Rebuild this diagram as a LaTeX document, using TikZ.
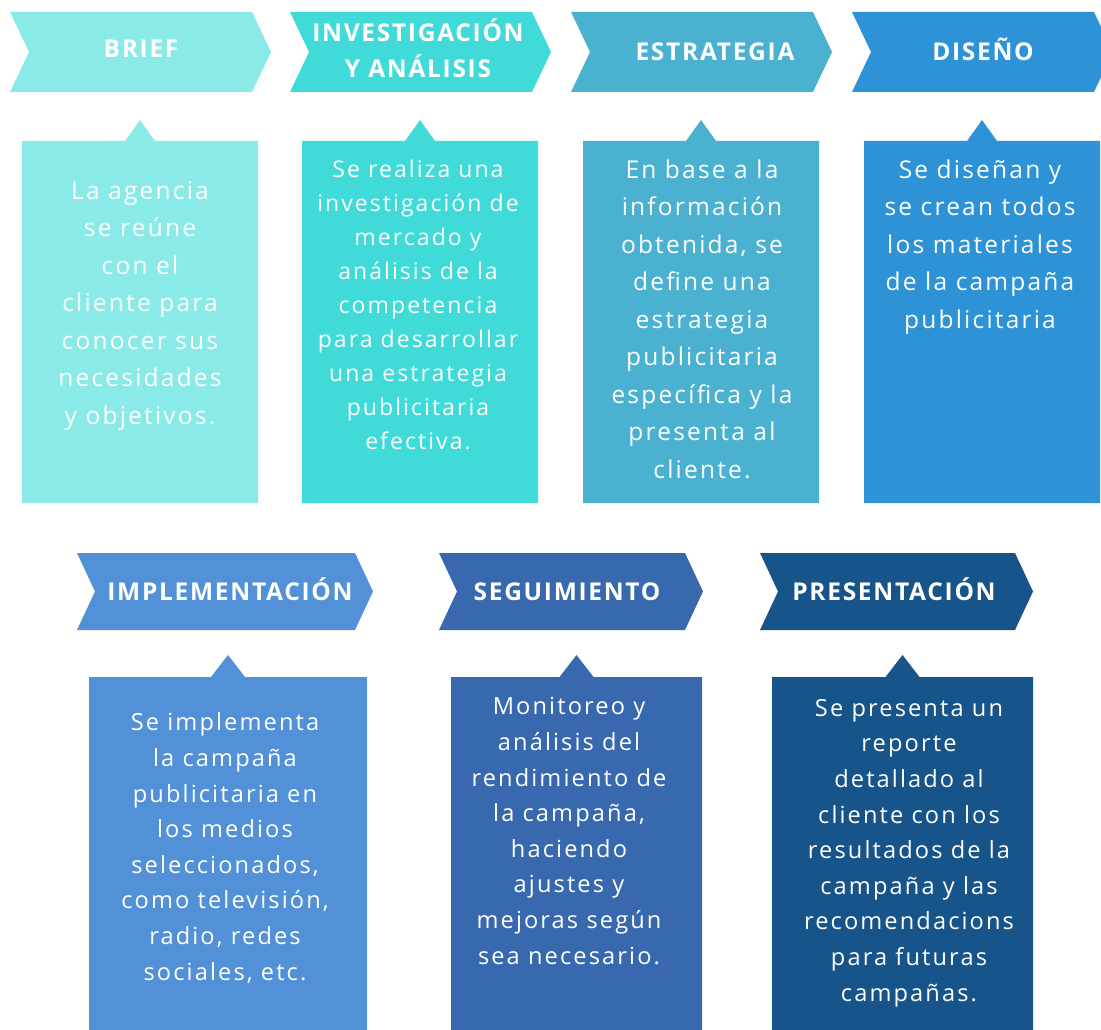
\documentclass[tikz,border=0pt]{standalone}
\usepackage{fontspec}
\setmainfont{Open Sans}

\definecolor{paso1}{HTML}{89EAE8}
\definecolor{paso2}{HTML}{40DBD8}
\definecolor{paso3}{HTML}{4AB2D0}
\definecolor{paso4}{HTML}{2E92D6}
\definecolor{paso5}{HTML}{5291D8}
\definecolor{paso6}{HTML}{3869AF}
\definecolor{paso7}{HTML}{175489}

\begin{document}
\begin{tikzpicture}[x=1pt,y=-1pt,
    titulo/.style={text=white,inner sep=0pt,anchor=base,align=center,
        font=\bfseries\fontsize{24.5}{36}\selectfont\addfontfeature{LetterSpace=7}},
    texto/.style 2 args={text=white,inner sep=0pt,anchor=base,align=center,
        font=\fontsize{#1}{#2}\selectfont\addfontfeature{LetterSpace=9}}]
    \clip (0,0) rectangle (1101,1030);

    % fila de arriba: flechas y tarjetas
    \foreach \x/\col in {10/paso1, 290/paso2, 571/paso3, 852/paso4} {
        \fill[\col] (\x,12) -- ++(242,0) -- ++(19,40) -- ++(-19,40) -- ++(-242,0) -- ++(19,-40) -- cycle;
        \fill[\col] (\x+12,141) -- ++(103,0) -- ++(15,-21) -- ++(15,21) -- ++(103,0)
            -- (\x+248,503) -- (\x+12,503) -- cycle;
    }

    % fila de abajo (anchos distintos)
    \foreach \x/\w/\cl/\cr/\col in {77/278/89/367/paso5, 439/246/451/702/paso6, 760/255/772/1033/paso7} {
        \fill[\col] (\x,553) -- ++(\w,0) -- ++(18,38.5) -- ++(-18,38.5) -- ++(-\w,0) -- ++(18,-38.5) -- cycle;
        \fill[\col] (\cl,677) -- ({(\cl+\cr)/2-17},677) -- ++(17,-22) -- ++(17,22) -- (\cr,677)
            -- (\cr,1030) -- (\cl,1030) -- cycle;
    }

    % titulos (base = linea de base de la ultima linea)
    \node[titulo] (brief) at (141,58) {BRIEF};
    \node[titulo] (investigacion) at (418,78) {INVESTIGACIÓN\\Y ANÁLISIS};
    \node[titulo] (estrategia) at (715,61) {ESTRATEGIA};
    \node[titulo] (diseno) at (983,61) {DISEÑO};
    \node[titulo] (implementacion) at (230,600) {IMPLEMENTACIÓN};
    \node[titulo] (seguimiento) at (567,600) {SEGUIMIENTO};
    \node[titulo] (presentacion) at (894,600) {PRESENTACIÓN};

    % textos de las tarjetas
    \node[texto={24.5}{37.5}] (tbrief) at (140,424) {La agencia\\se reúne\\con el\\cliente para\\conocer sus\\necesidades\\y objetivos.};
    \node[texto={23}{34}] (tinvestigacion) at (418,449) {Se realiza una\\investigación de\\mercado y\\análisis de la\\competencia\\para desarrollar\\una estrategia\\publicitaria\\efectiva.};
    \node[texto={24.5}{37.5}] (testrategia) at (702,478) {En base a la\\información\\obtenida, se\\define una\\estrategia\\publicitaria\\específica y la\\presenta al\\cliente.};
    \node[texto={24.5}{37.5}] (tdiseno) at (980,328) {Se diseñan y\\se crean todos\\los materiales\\de la campaña\\publicitaria};
    \node[texto={23.6}{35.6}] (timplementacion) at (225,980) {Se implementa\\la campaña\\publicitaria en\\los medios\\seleccionados,\\como televisión,\\radio, redes\\sociales, etc.};
    \node[texto={23.6}{35.6}] (tseguimiento) at (569,964) {Monitoreo y\\análisis del\\rendimiento de\\la campaña,\\haciendo\\ajustes y\\mejoras según\\sea necesario.};
    \node[texto={23.6}{35.6}] (tpresentacion) at (909,1001) {Se presenta un\\reporte\\detallado al\\cliente con los\\resultados de la\\campaña y las\\recomendacions\\para futuras\\campañas.};
\end{tikzpicture}
\end{document}
